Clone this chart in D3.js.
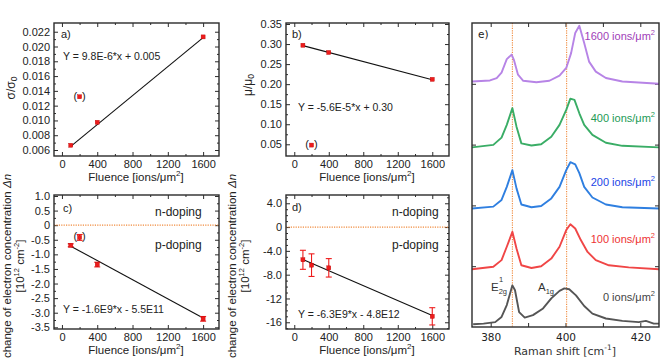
<!DOCTYPE html>
<html><head><meta charset="utf-8">
<script src="https://cdn.jsdelivr.net/npm/d3@7"></script>
<style>body{margin:0;background:#fff}svg{display:block}</style>
</head><body><svg id="chart" width="670" height="361"></svg>
<script>
// ---------- data ----------
const fluence = [100, 200, 400, 1600];
const sigmaRatio = [0.00664, 0.0132, 0.00975, 0.0213];
const muRatio = [0.297, 0.048, 0.279, 0.212];
const dnHall = [-0.69, -0.42, -1.35, -3.21];
const dnHallErr = [0.05, 0.10, 0.08, 0.08];
const dnRaman = [-5.5, -6.4, -6.85, -15.0];
const dnRamanErr = [1.6, 1.9, 1.55, 1.45];
const excludedA = [200];   // points in parentheses (panels a-c)
const fitA = [[100, 0.0065], [1600, 0.0212]];
const fitB = [[100, 0.296], [1600, 0.211]];
const fitC = [[100, -0.72], [1600, -3.18]];
const fitD = [[100, -5.43], [1600, -14.88]];
const eqA = "Y = 9.8E-6*x + 0.005";
const eqB = "Y = -5.6E-5*x + 0.30";
const eqC = "Y = -1.6E9*x - 5.5E11";
const eqD = "Y = -6.3E9*x - 4.8E12";
const fluenceTicks = [0, 400, 800, 1200, 1600];
const ticksA = [0.006, 0.008, 0.010, 0.012, 0.014, 0.016, 0.018, 0.020, 0.022];
const ticksB = [0.05, 0.10, 0.15, 0.20, 0.25, 0.30, 0.35];
const ticksC = [1.0, 0.5, 0, -0.5, -1.0, -1.5, -2.0, -2.5, -3.0, -3.5];
const labelsC = ["1.0", "0.5", "0", "-0.5", "-1.0", "-1.5", "-2.0", "-2.5", "-3.0", "-3.5"];
const ticksD = [4, 0, -4, -8, -12, -16];
const labelsD = ["4.0", "0", "-4.0", "-8.0", "-12", "-16"];

// Raman spectra [shift cm^-1, intensity (offset, arb.)]
const spec0 = [[375.3,0.9],[378.1,1.1],[381.2,1.6],[382.9,3.3],[384.3,7.2],[385.8,13.7],[386.5,12.1],[387.6,4.9],[389.1,3.1],[391.3,3.9],[394.0,6.1],[396.2,9.4],[398.4,11.9],[399.7,12.7],[401.0,12.4],[402.8,10.4],[405.0,6.9],[407.2,4.4],[410.8,2.8],[415.2,2.0],[419.6,1.6],[421.5,2.0],[423.6,1.1],[425,1.1]];
const spec100 = [[375,19.0],[380.7,19.8],[382.9,22.0],[384.3,26.4],[385.8,31.3],[386.9,25.8],[388.2,20.3],[390.9,19.4],[393.5,20.0],[396.2,22.5],[398.4,26.4],[400.2,31.9],[401.3,33.8],[402.6,32.4],[404.1,28.6],[405.9,24.7],[408.1,22.0],[411.6,20.3],[416.9,19.6],[425,19.0]];
const spec200 = [[375,39.0],[380.7,39.6],[382.9,41.8],[384.3,46.1],[385.8,51.6],[386.9,45.6],[388.2,40.3],[390.9,39.4],[393.5,39.8],[396.2,42.3],[398.4,46.1],[400.2,51.6],[401.3,54.2],[402.6,53.5],[403.7,50.6],[405.0,46.1],[407.2,42.6],[410.8,40.3],[415.2,39.4],[425,39.0]];
const spec400 = [[375,59.1],[380.7,59.9],[382.9,62.3],[384.3,66.5],[385.8,72.0],[386.9,65.9],[388.2,60.4],[390.9,59.7],[393.5,60.1],[396.2,62.6],[398.4,66.5],[400.2,71.4],[401.3,75.1],[402.4,74.7],[403.7,70.3],[405.0,66.5],[407.2,63.2],[410.8,60.6],[415.2,59.6],[425,59.1]];
const spec1600 = [[375,80.75],[379.8,81.1],[381.6,81.9],[382.9,83.7],[384.3,88.1],[385.6,89.6],[386.2,87.9],[387.3,83.0],[388.7,81.0],[392.2,80.5],[395.7,81.0],[398.4,82.7],[400.2,85.2],[401.5,90.1],[402.6,96.7],[403.7,99.1],[405.0,93.4],[406.3,87.3],[408.1,84.0],[410.8,81.9],[415.2,80.75],[425,80.0]];
const specNames = ["0 ions/μm", "100 ions/μm", "200 ions/μm", "400 ions/μm", "1600 ions/μm"];
const specLabelY = [9.5, 28.6, 47.5, 68.5, 95.5];
const ramanTicks = [380, 390, 400, 410, 420];
const ramanLabels = [380, 400, 420];
const peakLines = [385.8, 400.3];

// ---------- drawing ----------
const svg = d3.select("#chart");
const FONT = "'Liberation Sans', Arial, sans-serif";
const ORANGE = "#f08a3c";
const RED = "#ee1c1c";

function frame(g, x, y) {
  g.append("rect").attr("x", x.range()[0]).attr("y", y.range()[1])
    .attr("width", x.range()[1] - x.range()[0]).attr("height", y.range()[0] - y.range()[1])
    .attr("fill", "none").attr("stroke", "#2b2b2b").attr("stroke-width", 1.4);
}

function axes(g, x, y, o) {
  const [x0, x1] = x.range(), [y0, y1] = y.range();
  const style = sel => { sel.select(".domain").remove(); sel.attr("font-family", o.font || FONT).attr("font-size", o.fs || 11);
    sel.selectAll("line").attr("stroke", "#2b2b2b"); sel.selectAll("text").attr("fill", "#222"); };
  g.append("g").attr("transform", `translate(0,${y0})`).call(d3.axisBottom(x).tickValues(o.xt).tickSize(-4).tickPadding(o.xpad || 4).tickFormat(o.xf || d3.format("d"))).call(style);
  g.append("g").attr("transform", `translate(0,${y1})`).call(d3.axisTop(x).tickValues(o.xt).tickSize(-4).tickFormat("")).call(style);
  if (o.xm) {
    g.append("g").attr("transform", `translate(0,${y0})`).call(d3.axisBottom(x).tickValues(o.xm).tickSize(-2).tickFormat("")).call(style);
    g.append("g").attr("transform", `translate(0,${y1})`).call(d3.axisTop(x).tickValues(o.xm).tickSize(-2).tickFormat("")).call(style);
  }
  g.append("g").attr("transform", `translate(${x0},0)`).call(d3.axisLeft(y).tickValues(o.yt).tickSize(-4).tickPadding(4).tickFormat(o.yf || "")).call(style);
  g.append("g").attr("transform", `translate(${x1},0)`).call(d3.axisRight(y).tickValues(o.yt).tickSize(-4).tickFormat("")).call(style);
  if (o.ym) {
    g.append("g").attr("transform", `translate(${x0},0)`).call(d3.axisLeft(y).tickValues(o.ym).tickSize(-2).tickFormat("")).call(style);
    g.append("g").attr("transform", `translate(${x1},0)`).call(d3.axisRight(y).tickValues(o.ym).tickSize(-2).tickFormat("")).call(style);
  }
}

function text(g, x, y, s, o = {}) {
  return g.append("text").attr("x", x).attr("y", y).text(s)
    .attr("font-family", o.font || FONT).attr("font-size", o.fs || 11)
    .attr("fill", o.fill || "#222").attr("text-anchor", o.anchor || "start")
    .attr("dominant-baseline", "middle");
}

function fluenceLabel(g, cx, y) {
  const t = g.append("text").attr("x", cx).attr("y", y).attr("text-anchor", "middle")
    .attr("font-family", FONT).attr("font-size", 11.5).attr("fill", "#222").attr("dominant-baseline", "middle");
  t.append("tspan").text("Fluence [ions/μm");
  t.append("tspan").text("2").attr("font-size", 8).attr("dy", -4);
  t.append("tspan").text("]").attr("dy", 4);
}

function dnLabel(g, x1, x2, cy) {
  const t = g.append("text").attr("transform", `translate(${x1},${cy}) rotate(-90)`).attr("text-anchor", "middle")
    .attr("font-family", FONT).attr("font-size", 11.5).attr("fill", "#222").attr("dominant-baseline", "middle");
  t.append("tspan").text("change of electron concentration ");
  t.append("tspan").text("Δn").attr("font-style", "italic");
  const u = g.append("text").attr("transform", `translate(${x2},${cy}) rotate(-90)`).attr("text-anchor", "middle")
    .attr("font-family", FONT).attr("font-size", 11.5).attr("fill", "#222").attr("dominant-baseline", "middle");
  u.append("tspan").text("[10");
  u.append("tspan").text("12").attr("font-size", 7.5).attr("dy", -4);
  u.append("tspan").text(" cm").attr("dy", 4);
  u.append("tspan").text("-2").attr("font-size", 7.5).attr("dy", -4);
  u.append("tspan").text("]").attr("dy", 4);
}

function marks(g, x, y, vals, errs, excluded, fit) {
  g.append("line").attr("x1", x(fit[0][0])).attr("y1", y(fit[0][1])).attr("x2", x(fit[1][0])).attr("y2", y(fit[1][1]))
    .attr("stroke", "#111").attr("stroke-width", 1.1);
  fluence.forEach((f, i) => {
    const cx = x(f), cy = y(vals[i]);
    if (errs) {
      const e = errs[i];
      g.append("line").attr("x1", cx).attr("x2", cx).attr("y1", y(vals[i] + e)).attr("y2", y(vals[i] - e)).attr("stroke", RED).attr("stroke-width", 1.1);
      [vals[i] + e, vals[i] - e].forEach(v => g.append("line").attr("x1", cx - 3).attr("x2", cx + 3).attr("y1", y(v)).attr("y2", y(v)).attr("stroke", RED).attr("stroke-width", 1.1));
    }
    g.append("rect").attr("x", cx - 2).attr("y", cy - 2).attr("width", 4).attr("height", 4)
      .attr("fill", RED).attr("stroke", "#b00").attr("stroke-width", 0.4);
    if (excluded.includes(f)) {
      text(g, cx - 2.5, cy, "(", { anchor: "end" });
      text(g, cx + 2.5, cy, ")", { anchor: "start" });
    }
  });
}

// Panel a
{
  const g = svg.append("g");
  const x = d3.scaleLinear().domain([-90, 1780]).range([54, 219]);
  const y = d3.scaleLinear().domain([0.00519, 0.02318]).range([156, 23]);
  axes(g, x, y, { xt: fluenceTicks, xm: [200, 600, 1000, 1400], yt: ticksA, ym: d3.range(0.007, 0.0225, 0.002), yf: d3.format(".3f") });
  frame(g, x, y);
  marks(g, x, y, sigmaRatio, null, excludedA, fitA);
  text(g, 61, 35, "a)");
  text(g, 63, 57, eqA, { fs: 10.5 });
  fluenceLabel(g, 136, 178);
  const t = g.append("text").attr("transform", "translate(12,88) rotate(-90)").attr("text-anchor", "middle")
    .attr("font-family", FONT).attr("font-size", 12).attr("fill", "#222").attr("dominant-baseline", "middle");
  t.append("tspan").text("σ/σ");
  t.append("tspan").text("0").attr("font-size", 8.5).attr("dy", 3);
}
// Panel b
{
  const g = svg.append("g");
  const x = d3.scaleLinear().domain([-96, 1794]).range([286, 449]);
  const y = d3.scaleLinear().domain([0.0208, 0.3525]).range([156, 23]);
  axes(g, x, y, { xt: fluenceTicks, xm: [200, 600, 1000, 1400], yt: ticksB, ym: [0.075, 0.125, 0.175, 0.225, 0.275, 0.325], yf: d3.format(".2f") });
  frame(g, x, y);
  marks(g, x, y, muRatio, null, excludedA, fitB);
  text(g, 292, 35, "b)");
  text(g, 298, 108, eqB, { fs: 10.5 });
  fluenceLabel(g, 367, 178);
  const t = g.append("text").attr("transform", "translate(249,85) rotate(-90)").attr("text-anchor", "middle")
    .attr("font-family", FONT).attr("font-size", 12).attr("fill", "#222").attr("dominant-baseline", "middle");
  t.append("tspan").text("μ/μ");
  t.append("tspan").text("0").attr("font-size", 8.5).attr("dy", 3);
}
// Panel c
{
  const g = svg.append("g");
  const x = d3.scaleLinear().domain([-90, 1780]).range([54, 219]);
  const y = d3.scaleLinear().domain([-3.558, 1.034]).range([329, 195]);
  axes(g, x, y, { xt: fluenceTicks, xm: [200, 600, 1000, 1400], yt: ticksC, ym: d3.range(-3.25, 1.0, 0.5), yf: (d, i) => labelsC[i] });
  g.append("line").attr("x1", 54).attr("x2", 219).attr("y1", y(0)).attr("y2", y(0)).attr("stroke", ORANGE).attr("stroke-width", 1.2).attr("stroke-dasharray", "1.2,1.2");
  frame(g, x, y);
  marks(g, x, y, dnHall, dnHallErr, excludedA, fitC);
  text(g, 63, 209, "c)");
  text(g, 155, 213, "n-doping", { fs: 12 });
  text(g, 155, 246, "p-doping", { fs: 12 });
  text(g, 63, 310, eqC, { fs: 10.5 });
  fluenceLabel(g, 136, 351);
  dnLabel(g, 8, 21, 266);
}
// Panel d
{
  const g = svg.append("g");
  const x = d3.scaleLinear().domain([-96, 1794]).range([286, 449]);
  const y = d3.scaleLinear().domain([-17.13, 5.39]).range([329, 195]);
  axes(g, x, y, { xt: fluenceTicks, xm: [200, 600, 1000, 1400], yt: ticksD, ym: d3.range(-17, 6, 1).filter(v => v % 4 !== 0), yf: (d, i) => labelsD[i] });
  g.append("line").attr("x1", 286).attr("x2", 449).attr("y1", y(0)).attr("y2", y(0)).attr("stroke", ORANGE).attr("stroke-width", 1.2).attr("stroke-dasharray", "1.2,1.2");
  frame(g, x, y);
  marks(g, x, y, dnRaman, dnRamanErr, [], fitD);
  text(g, 292, 208, "d)");
  text(g, 392, 213, "n-doping", { fs: 12 });
  text(g, 392, 246, "p-doping", { fs: 12 });
  text(g, 298, 315, eqD, { fs: 10.5 });
  fluenceLabel(g, 367, 351);
  dnLabel(g, 233, 246, 266);
}
// Panel e
{
  const g = svg.append("g");
  const x = d3.scaleLinear().domain([375, 425]).range([472, 659]);
  const y = d3.scaleLinear().domain([0, 100]).range([327, 23]);
  const EF = "'DejaVu Sans', Verdana, sans-serif";
  axes(g, x, y, { xt: ramanTicks, yt: [20, 40, 60, 80], xf: d => ramanLabels.includes(d) ? d : "", xpad: 7, font: EF, fs: 10.5 });
  peakLines.forEach(p => g.append("line").attr("x1", x(p)).attr("x2", x(p)).attr("y1", 23).attr("y2", 327)
    .attr("stroke", ORANGE).attr("stroke-width", 1.1).attr("stroke-dasharray", "1.2,1.2"));
  const specs = [spec0, spec100, spec200, spec400, spec1600];
  const lineCol = ["#555555", "#f04646", "#2f7fe0", "#3aad66", "#b784e6"];
  const textCol = ["#444444", "#ee3333", "#2244e6", "#229a55", "#a040b8"];
  const line = d3.line().x(d => x(d[0])).y(d => y(d[1]));
  specs.forEach((s, i) => {
    g.append("path").datum(s).attr("d", line).attr("fill", "none").attr("stroke", lineCol[i]).attr("stroke-width", 1.9).attr("stroke-linejoin", "round");
    const t = g.append("text").attr("x", 655).attr("y", y(specLabelY[i])).attr("text-anchor", "end")
      .attr("font-family", FONT).attr("font-size", 11).attr("fill", textCol[i]).attr("dominant-baseline", "middle");
    t.append("tspan").text(specNames[i]);
    t.append("tspan").text("2").attr("font-size", 7.5).attr("dy", -4);
  });
  frame(g, x, y);
  text(g, 478, 35, "e)", { font: EF, fs: 10.5 });
  const e = g.append("text").attr("x", 491).attr("y", 288).attr("font-family", FONT).attr("font-size", 11.5).attr("fill", "#333").attr("dominant-baseline", "middle");
  e.append("tspan").text("E");
  e.append("tspan").text("2g").attr("font-size", 7.5).attr("dy", 4);
  g.append("text").attr("x", 499).attr("y", 280).text("1").attr("font-family", FONT).attr("font-size", 7.5).attr("fill", "#333").attr("dominant-baseline", "middle");
  const a = g.append("text").attr("x", 538).attr("y", 288).attr("font-family", FONT).attr("font-size", 11.5).attr("fill", "#333").attr("dominant-baseline", "middle");
  a.append("tspan").text("A");
  a.append("tspan").text("1g").attr("font-size", 7.5).attr("dy", 4);
  const r = g.append("text").attr("x", 565).attr("y", 352).attr("text-anchor", "middle").attr("font-family", EF).attr("font-size", 11).attr("fill", "#333").attr("dominant-baseline", "middle");
  r.append("tspan").text("Raman shift [cm");
  r.append("tspan").text("-1").attr("font-size", 7.5).attr("dy", -4);
  r.append("tspan").text("]").attr("dy", 4);
}
</script></body></html>
